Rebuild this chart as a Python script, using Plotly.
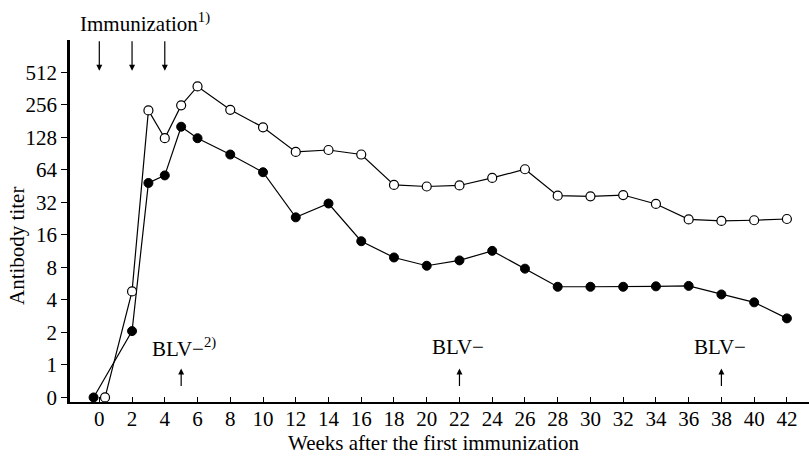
import numpy as np
import plotly.graph_objects as go

# ---- data (antibody titers; 0 = no detectable titer) ----
weeks_open = [0.35, 2, 3, 4, 5, 6, 8, 10, 12, 14, 16, 18, 20, 22, 24, 26, 28, 30, 32, 34, 36, 38, 40, 42]
titer_open = [0, 4.8, 228, 126, 254, 380, 231, 159, 94, 98, 89, 46.5, 45, 46, 54, 65, 37, 36.5, 37.5, 31, 22.3, 21.6, 21.9, 22.5]

weeks_filled = [-0.35, 2, 3, 4, 5, 6, 8, 10, 12, 14, 16, 18, 20, 22, 24, 26, 28, 30, 32, 34, 36, 38, 40, 42]
titer_filled = [0, 2.06, 48.5, 57, 161, 126, 89, 61, 23.3, 31.3, 14, 9.9, 8.3, 9.3, 11.4, 7.8, 5.3, 5.3, 5.3, 5.35, 5.4, 4.5, 3.8, 2.7]

titer_ticks = [0, 1, 2, 4, 8, 16, 32, 64, 128, 256, 512]
week_ticks = list(range(0, 43, 2))
immunization_weeks = [0, 2, 4]
blv_weeks = [5, 22, 38]


def to_pos(t):
    t = np.asarray(t, dtype=float)
    out = np.full(t.shape, -1.0)
    m = t > 0
    out[m] = np.log2(t[m])
    return out


FONT = "Liberation Serif"
FS = 21

fig = go.Figure()
fig.add_trace(go.Scatter(
    x=weeks_filled, y=to_pos(titer_filled), mode="lines+markers",
    line=dict(color="black", width=1.2),
    marker=dict(symbol="circle", size=9, color="black", line=dict(color="black", width=1)),
    showlegend=False))
fig.add_trace(go.Scatter(
    x=weeks_open, y=to_pos(titer_open), mode="lines+markers",
    line=dict(color="black", width=1.2),
    marker=dict(symbol="circle", size=9, color="white", line=dict(color="black", width=1.2)),
    showlegend=False))

L, R, T, B = 70, 0, 40, 56
W, H = 809, 458
pw, ph = W - L - R, H - T - B

ann = []
# immunization arrows (pointing down)
for w in immunization_weeks:
    ann.append(dict(x=w, y=9.05, xref="x", yref="y", text="", showarrow=True,
                    ax=0, ay=-31, arrowhead=2, arrowsize=1, arrowwidth=1.2, arrowcolor="black"))
ann.append(dict(x=-1.30, y=1 + (T - 22) / ph, xref="x", yref="paper", xanchor="left", yanchor="middle",
                text="Immunization<sup>1)</sup>", showarrow=False,
                font=dict(family=FONT, size=FS, color="black")))
# BLV arrows (pointing up)
for w in blv_weeks:
    ann.append(dict(x=w, y=-0.11, xref="x", yref="y", text="", showarrow=True,
                    ax=0, ay=19, arrowhead=2, arrowsize=1, arrowwidth=1.2, arrowcolor="black"))
ann.append(dict(x=3.1, y=0.54, xref="x", yref="y", xanchor="left", yanchor="middle",
                text="BLV−<sup>2)</sup>", showarrow=False,
                font=dict(family=FONT, size=FS, color="black")))
for w in blv_weeks[1:]:
    ann.append(dict(x=w - 0.1, y=0.54, xref="x", yref="y", xanchor="center", yanchor="middle",
                    text="BLV−", showarrow=False,
                    font=dict(family=FONT, size=FS, color="black")))
# axis titles (pixel positions converted to paper coordinates)
ann.append(dict(x=(17 - L) / pw, y=1 - (246 - T) / ph, xref="paper", yref="paper",
                xanchor="center", yanchor="middle", text="Antibody titer", showarrow=False,
                textangle=-90, font=dict(family=FONT, size=FS, color="black")))
ann.append(dict(x=(434 - L) / pw, y=1 - (443 - T) / ph, xref="paper", yref="paper",
                xanchor="center", yanchor="middle", text="Weeks after the first immunization",
                showarrow=False, font=dict(family=FONT, size=FS, color="black")))

fig.update_layout(
    width=W, height=H,
    margin=dict(l=L, r=R, t=T, b=B, pad=0),
    paper_bgcolor="white", plot_bgcolor="white",
    font=dict(family=FONT, size=FS, color="black"),
    annotations=ann,
    xaxis=dict(range=[-1.79, 43.35], tickmode="array", tickvals=week_ticks,
               ticktext=[str(v) for v in week_ticks],
               showline=True, linecolor="black", linewidth=2,
               ticks="inside", ticklen=5, tickwidth=1, tickcolor="black",
               ticklabelstandoff=-3,
               showgrid=False, zeroline=False, fixedrange=True,
               tickfont=dict(family=FONT, size=FS, color="black")),
    yaxis=dict(range=[-1.14, 10.0], tickmode="array", tickvals=list(to_pos(titer_ticks)),
               ticktext=[str(v) for v in titer_ticks],
               showline=True, linecolor="black", linewidth=2.5,
               ticks="outside", ticklen=6, tickwidth=1.2, tickcolor="black",
               showgrid=False, zeroline=False, fixedrange=True,
               tickfont=dict(family=FONT, size=FS, color="black")),
)

fig.write_html("out.html")
